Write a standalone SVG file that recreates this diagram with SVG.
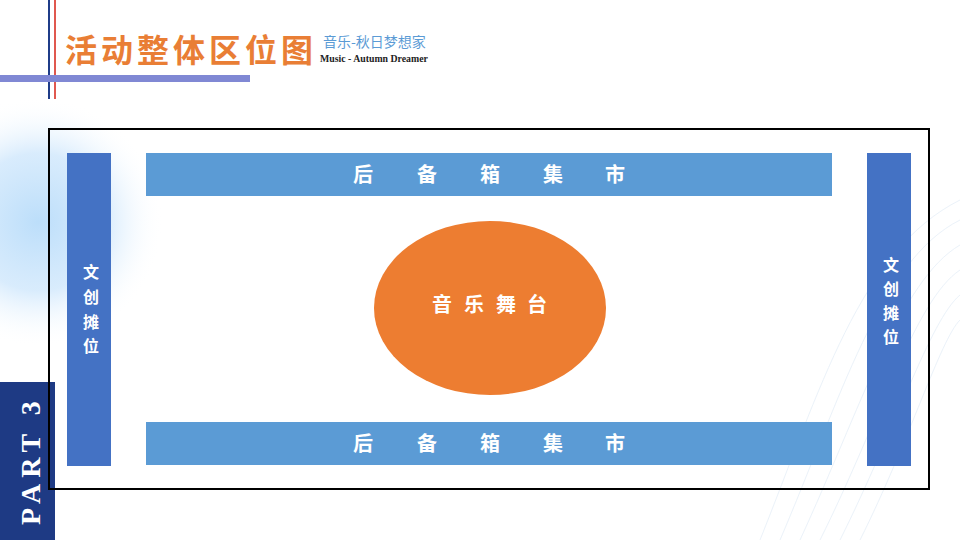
<svg xmlns="http://www.w3.org/2000/svg" width="960" height="540" viewBox="0 0 960 540">
<defs>
<radialGradient id="glow" cx="0.5" cy="0.5" r="0.5">
<stop offset="0" stop-color="#BCDEFA" stop-opacity="1"/>
<stop offset="0.55" stop-color="#CFE7FC" stop-opacity="0.8"/>
<stop offset="1" stop-color="#FFFFFF" stop-opacity="0"/>
</radialGradient>
<style>
.cjk{font-family:"Noto Sans CJK SC","Liberation Serif",sans-serif;font-weight:bold;fill:#FFFFFF}
.side{fill:#4472C4}
.bar{fill:#5B9BD5}
.wave{fill:none;stroke:#DCE8F5;stroke-width:0.8}
</style>
</defs>
<rect width="960" height="540" fill="#FFFFFF"/>
<circle cx="38" cy="222" r="125" fill="url(#glow)"/>
<g opacity="0.7">
<path class="wave" d="M780 540 C840 400 880 260 960 220"/>
<path class="wave" d="M800 540 C860 410 900 280 960 245"/>
<path class="wave" d="M820 540 C880 420 915 300 960 270"/>
<path class="wave" d="M840 540 C895 430 930 320 960 295"/>
<path class="wave" d="M860 540 C910 440 940 340 960 320"/>
<path class="wave" d="M760 540 C820 390 860 250 960 200"/>
</g>
<!-- header -->
<line x1="49" y1="0" x2="49" y2="99" stroke="#1F3C88" stroke-width="2"/>
<line x1="55" y1="0" x2="55" y2="99" stroke="#E0584F" stroke-width="2"/>
<rect x="0" y="75" width="250" height="7" fill="#8088D4"/>
<text x="65" y="62" font-family="Noto Sans CJK SC,sans-serif" font-weight="bold" font-size="32" letter-spacing="4" fill="#E97E35">活动整体区位图</text>
<text x="323" y="47" font-family="Noto Sans CJK SC,sans-serif" font-size="14" fill="#5B9BD5">音乐-秋日梦想家</text>
<text x="320" y="62" font-family="Liberation Serif,serif" font-weight="bold" font-size="9.8" fill="#222">Music - Autumn Dreamer</text>
<!-- part 3 -->
<rect x="0" y="382" width="55" height="158" fill="#1E3A84"/>
<text transform="translate(40 525) rotate(-90)" font-family="Liberation Serif,serif" font-weight="bold" font-size="28" letter-spacing="6" fill="#FFFFFF">PART 3</text>
<!-- frame -->
<rect x="49" y="129" width="880" height="360" fill="none" stroke="#000000" stroke-width="2"/>
<g id="left-stall">
<rect class="side" x="67" y="153" width="44" height="313"/>
<text class="cjk" font-size="16" text-anchor="middle"><tspan x="91" y="278">文</tspan><tspan x="91" y="303">创</tspan><tspan x="91" y="328">摊</tspan><tspan x="91" y="352">位</tspan></text>
</g>
<g id="right-stall">
<rect class="side" x="867" y="153" width="44" height="313"/>
<text class="cjk" font-size="16" text-anchor="middle"><tspan x="891" y="271">文</tspan><tspan x="891" y="295">创</tspan><tspan x="891" y="319">摊</tspan><tspan x="891" y="343">位</tspan></text>
</g>
<g id="top-market">
<rect class="bar" x="146" y="153" width="686" height="43"/>
<text class="cjk" font-size="20" text-anchor="middle"><tspan x="363" y="182">后</tspan><tspan x="427" y="182">备</tspan><tspan x="490" y="182">箱</tspan><tspan x="553" y="182">集</tspan><tspan x="615" y="182">市</tspan></text>
</g>
<g id="bottom-market">
<rect class="bar" x="146" y="422" width="686" height="43"/>
<text class="cjk" font-size="20" text-anchor="middle"><tspan x="363" y="451">后</tspan><tspan x="427" y="451">备</tspan><tspan x="490" y="451">箱</tspan><tspan x="553" y="451">集</tspan><tspan x="615" y="451">市</tspan></text>
</g>
<g id="stage">
<ellipse cx="490" cy="308" rx="116" ry="87" fill="#ED7D31"/>
<text class="cjk" font-size="20" text-anchor="middle"><tspan x="442" y="312">音</tspan><tspan x="474" y="312">乐</tspan><tspan x="506" y="312">舞</tspan><tspan x="537" y="312">台</tspan></text>
</g>
<g id="connectors"/>
</svg>
